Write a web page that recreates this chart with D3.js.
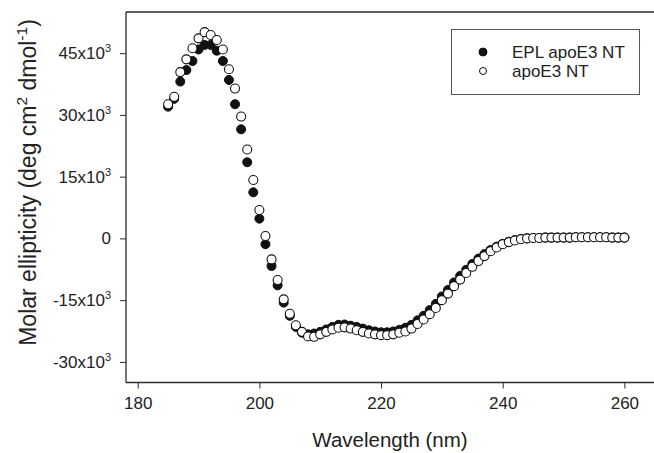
<!DOCTYPE html>
<html>
<head>
<meta charset="utf-8">
<style>
  body { margin: 0; background: #fff; }
  svg { display: block; font-family: "Liberation Sans", Arial, sans-serif; }
</style>
</head>
<body>
<svg width="654" height="453"></svg>
<script src="https://d3js.org/d3.v7.min.js"></script>
<script>
// wavelength in nm, one reading per nm
var wavelength = [185,186,187,188,189,190,191,192,193,194,195,196,197,198,199,200,
  201,202,203,204,205,206,207,208,209,210,211,212,213,214,215,216,217,218,219,220,
  221,222,223,224,225,226,227,228,229,230,231,232,233,234,235,236,237,238,239,240,
  241,242,243,244,245,246,247,248,249,250,251,252,253,254,255,256,257,258,259,260];

// molar ellipticity, x10^3
var eplApoE3 = [32.0,33.9,38.1,40.9,43.1,45.9,47.0,47.0,45.6,43.1,38.5,32.6,26.5,18.5,11.2,4.8,
  -1.4,-6.7,-11.4,-15.6,-18.8,-21.5,-22.9,-23.3,-23.1,-22.7,-22.1,-21.5,-21.0,-20.9,-21.2,-21.5,-21.9,-22.3,-22.6,-22.8,
  -22.8,-22.6,-22.2,-21.7,-21.0,-19.9,-18.8,-17.4,-15.9,-14.1,-12.5,-10.7,-9.1,-7.6,-6.2,-4.9,-3.8,-2.8,-2.0,-1.3,
  -0.8,-0.4,-0.1,0.0,0.1,0.1,0.2,0.2,0.2,0.2,0.2,0.3,0.3,0.3,0.3,0.3,0.3,0.2,0.2,0.2];

var apoE3 = [32.6,34.4,40.4,43.5,46.2,48.6,50.1,49.4,48.2,45.9,41.1,36.4,29.6,21.6,14.2,6.9,
  0.6,-5.1,-10.1,-14.8,-18.3,-21.1,-22.7,-23.8,-23.9,-23.3,-22.7,-22.1,-21.7,-21.6,-21.9,-22.3,-22.7,-23.1,-23.3,-23.5,
  -23.5,-23.3,-22.9,-22.6,-21.9,-20.8,-19.7,-18.4,-16.9,-15.0,-13.4,-11.6,-10.0,-8.4,-6.9,-5.5,-4.3,-3.1,-2.2,-1.4,
  -0.9,-0.5,-0.2,0.0,0.1,0.1,0.2,0.2,0.2,0.2,0.2,0.3,0.3,0.3,0.3,0.3,0.3,0.2,0.2,0.2];

var xTicks = [180, 200, 220, 240, 260];
var yTicks = [-30, -15, 0, 15, 30, 45];
var seriesNames = ["EPL apoE3 NT", "apoE3 NT"];

var svg = d3.select("svg"),
    plotLeft = 126, plotTop = 12, plotBottom = 382.5, plotRight = 654;

var x = d3.scaleLinear().domain([180, 260]).range([137.7, 624.4]);
var y = d3.scaleLinear().domain([-35, 55]).range([plotBottom, plotTop]);

var ink = "#2b2b2b";

// frame (right side is cut off in the original)
svg.append("line")
    .attr("x1", plotLeft).attr("x2", plotRight)
    .attr("y1", plotTop).attr("y2", plotTop)
    .attr("stroke", ink).attr("stroke-width", 1.3);

// x axis
var gx = svg.append("g").attr("transform", "translate(0," + plotBottom + ")");
gx.call(d3.axisBottom(x).tickValues(xTicks).tickSize(6).tickPadding(8).tickSizeOuter(0));
gx.select(".domain").remove();
gx.append("line").attr("x1", plotLeft).attr("x2", plotRight)
    .attr("stroke", ink).attr("stroke-width", 1.3);
gx.selectAll(".tick line").attr("stroke", ink);
gx.selectAll(".tick text").attr("font-size", 17).attr("fill", "#222")
    .attr("font-family", "Liberation Sans, Arial, sans-serif");

// y axis
var gy = svg.append("g").attr("transform", "translate(" + plotLeft + ",0)");
gy.call(d3.axisLeft(y).tickValues(yTicks).tickSize(6).tickPadding(9).tickSizeOuter(0));
gy.select(".domain").remove();
gy.append("line").attr("y1", plotTop).attr("y2", plotBottom)
    .attr("stroke", ink).attr("stroke-width", 1.3);
gy.selectAll(".tick line").attr("stroke", ink);
gy.selectAll(".tick text")
    .attr("font-size", 17).attr("fill", "#222")
    .attr("font-family", "Liberation Sans, Arial, sans-serif")
    .each(function(d) {
      var t = d3.select(this).text("");
      if (d === 0) { t.text("0"); return; }
      t.append("tspan").text(d + "x10");
      t.append("tspan").attr("font-size", 11).attr("dy", -7).text("3");
    });

// axis titles
svg.append("text")
    .attr("x", 390).attr("y", 447)
    .attr("text-anchor", "middle")
    .attr("font-size", 20.5).attr("fill", "#222")
    .text("Wavelength (nm)");

var yt = svg.append("text")
    .attr("transform", "translate(36,182.5) rotate(-90)")
    .attr("text-anchor", "middle")
    .attr("font-size", 23).attr("fill", "#222");
yt.append("tspan").text("Molar ellipticity (deg cm");
yt.append("tspan").attr("font-size", 15.5).attr("dy", -9).text("2");
yt.append("tspan").attr("dy", 9).text(" dmol");
yt.append("tspan").attr("font-size", 15.5).attr("dy", -9).text("-1");
yt.append("tspan").attr("dy", 9).text(")");

// data
var filled = wavelength.map(function(w, i) { return [w, eplApoE3[i]]; });
var open = wavelength.map(function(w, i) { return [w, apoE3[i]]; });

svg.append("g").selectAll("circle")
    .data(filled)
  .enter().append("circle")
    .attr("cx", function(d) { return x(d[0]); })
    .attr("cy", function(d) { return y(d[1]); })
    .attr("r", 4.5)
    .attr("fill", "#111")
    .attr("stroke", "#111")
    .attr("stroke-width", 1);

svg.append("g").selectAll("circle")
    .data(open)
  .enter().append("circle")
    .attr("cx", function(d) { return x(d[0]); })
    .attr("cy", function(d) { return y(d[1]); })
    .attr("r", 4.5)
    .attr("fill", "#fff")
    .attr("stroke", "#111")
    .attr("stroke-width", 1.1);

// legend
var lg = svg.append("g");
lg.append("rect")
    .attr("x", 451.5).attr("y", 29.5)
    .attr("width", 188).attr("height", 65)
    .attr("fill", "#fff").attr("stroke", "#555").attr("stroke-width", 1);

seriesNames.forEach(function(name, i) {
  var cy = 52 + i * 19;
  lg.append("circle")
      .attr("cx", 483).attr("cy", cy).attr("r", i === 0 ? 4 : 3.5)
      .attr("fill", i === 0 ? "#111" : "#fff")
      .attr("stroke", "#111").attr("stroke-width", 1);
  lg.append("text")
      .attr("x", 512).attr("y", cy + 6)
      .attr("font-size", 17).attr("fill", "#222")
      .text(name);
});
</script>
</body>
</html>
